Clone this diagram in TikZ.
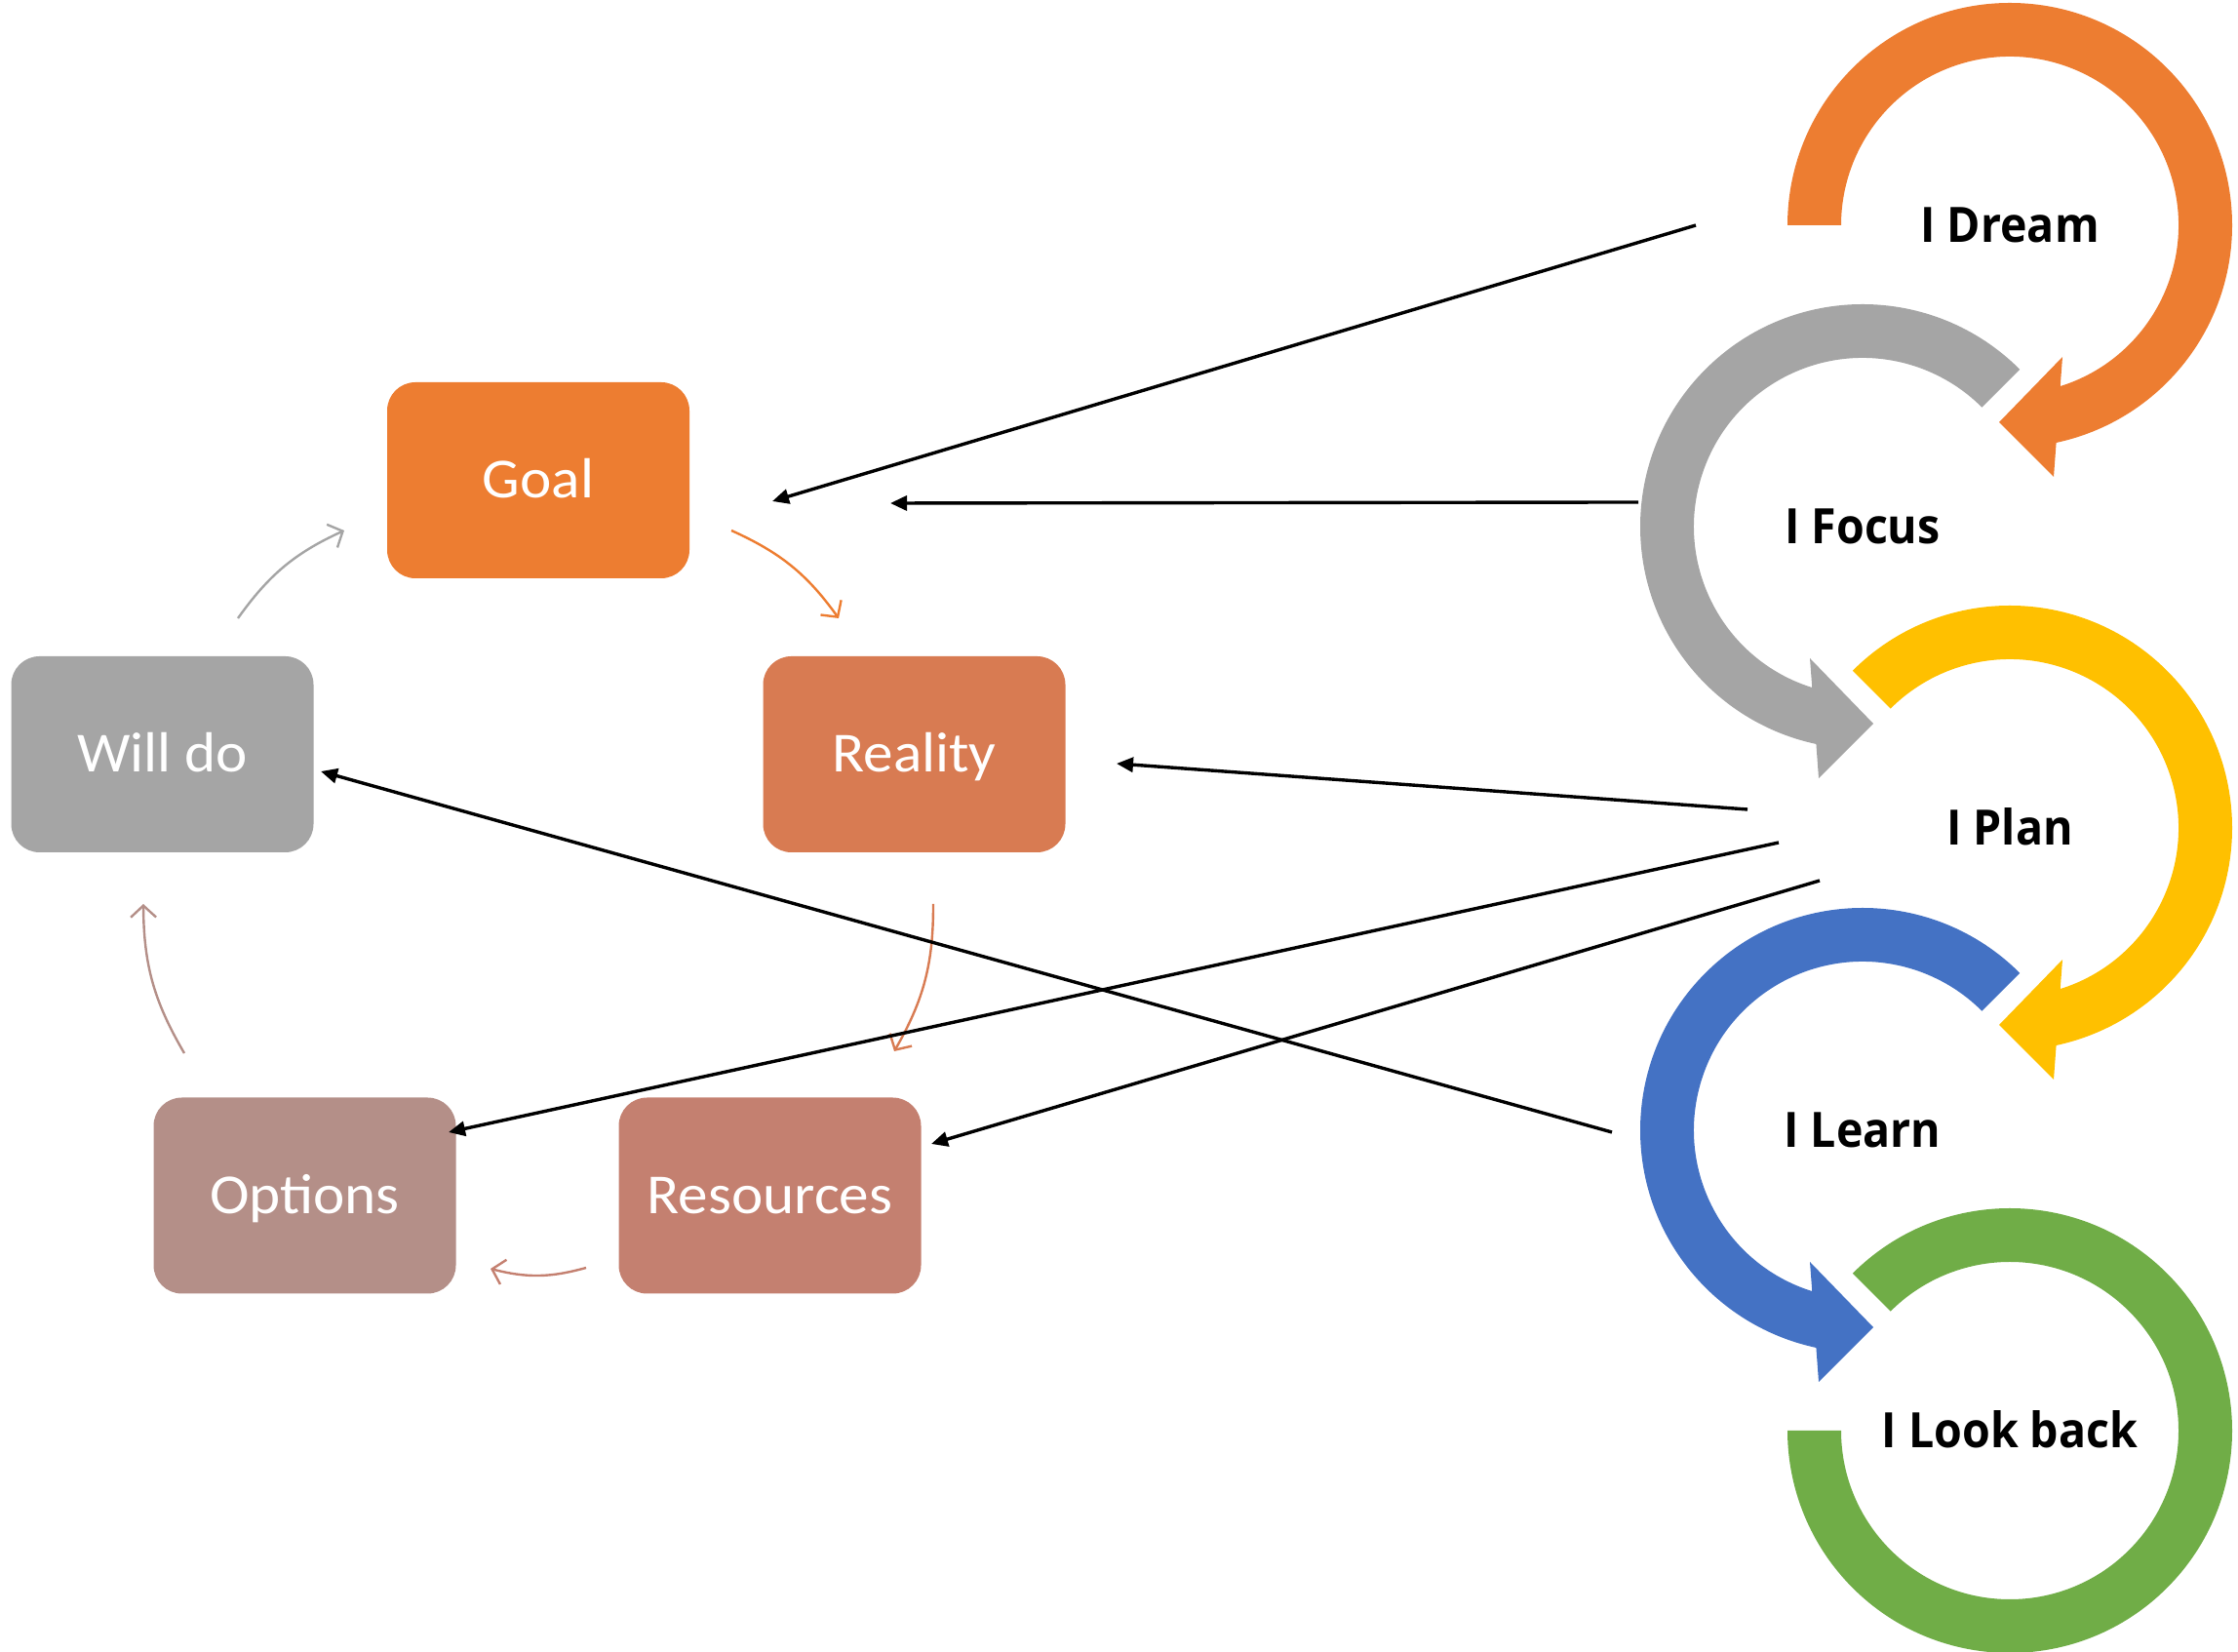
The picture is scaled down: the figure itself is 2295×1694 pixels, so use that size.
\documentclass[tikz,border=0pt]{standalone}
\usepackage{fontspec}
\setmainfont[FakeStretch=1.055]{Carlito}
\newfontfamily\ringfont[FakeStretch=0.93]{Open Sans}
\usetikzlibrary{arrows.meta}
\definecolor{cGoal}{HTML}{ED7D31}
\definecolor{cReal}{HTML}{D87B52}
\definecolor{cWill}{HTML}{A5A5A5}
\definecolor{cOpt}{HTML}{B48F88}
\definecolor{cRes}{HTML}{C48070}
\definecolor{cDream}{HTML}{ED7D31}
\definecolor{cFocus}{HTML}{A5A5A5}
\definecolor{cPlan}{HTML}{FFC000}
\definecolor{cLearn}{HTML}{4472C4}
\definecolor{cBack}{HTML}{70AD47}
\begin{document}
\begin{tikzpicture}[x=1pt,y=1pt,
  box/.style={rounded corners=29pt, minimum width=310pt, minimum height=201pt,
    inner sep=0pt, text=white, font=\fontsize{58}{70}\selectfont,
    text height=36.5pt, text depth=0pt},
  cyc/.style={line width=2.4pt, -{Straight Barb[length=12pt,width=26pt]}, bend left=15},
  link/.style={line width=3.4pt, -{Triangle[length=17pt,width=15pt]}},
  ringlabel/.style={font=\ringfont\bfseries\fontsize{50}{60}\selectfont,
    text height=35.7pt, text depth=0pt, inner sep=0pt}]
\useasboundingbox (0,0) rectangle (2295,1694);

% ---- rings ----
\begin{scope}[shift={(2061,1463)}]
\fill[cDream] (180:228pt) arc[start angle=180, end angle=-77.95, radius=228pt]
  -- (45,-258) -- (-11,-202) -- (54,-135) -- (-72.6:173pt)
  arc[start angle=-72.6, end angle=180, radius=173pt] -- cycle;
\end{scope}
\begin{scope}[shift={(1910,1154)}]
\fill[cFocus] (45:228pt) arc[start angle=45, end angle=257.95, radius=228pt]
  -- (-45,-258) -- (11,-202) -- (-54,-135) -- (252.6:173pt)
  arc[start angle=252.6, end angle=45, radius=173pt] -- cycle;
\end{scope}
\begin{scope}[shift={(2061,845)}]
\fill[cPlan] (135:228pt) arc[start angle=135, end angle=-77.95, radius=228pt]
  -- (45,-258) -- (-11,-202) -- (54,-135) -- (-72.6:173pt)
  arc[start angle=-72.6, end angle=135, radius=173pt] -- cycle;
\end{scope}
\begin{scope}[shift={(1910,535)}]
\fill[cLearn] (45:228pt) arc[start angle=45, end angle=257.95, radius=228pt]
  -- (-45,-258) -- (11,-202) -- (-54,-135) -- (252.6:173pt)
  arc[start angle=252.6, end angle=45, radius=173pt] -- cycle;
\end{scope}
\begin{scope}[shift={(2061,227)}]
\fill[cBack] (135:228pt) arc[start angle=135, end angle=-180, radius=228pt]
  -- (-180:173pt) arc[start angle=-180, end angle=135, radius=173pt] -- cycle;
\end{scope}

\node[ringlabel] (dream) at (2061,1463) {I Dream};
\node[ringlabel] (focus) at (1910,1154) {I Focus};
\node[ringlabel] (plan) at (2061,845) {I Plan};
\node[ringlabel] (learn) at (1910,535) {I Learn};
\node[ringlabel] (lookback) at (2061,227) {I Look back};

% ---- boxes ----
\node[box, fill=cGoal] (goal) at (552,1201.5) {Goal};
\node[box, fill=cReal] (reality) at (937.5,920.5) {Reality};
\node[box, fill=cWill] (willdo) at (166.5,920.5) {Will do};
\node[box, fill=cOpt] (options) at (312.5,468) {Options};
\node[box, fill=cRes] (resources) at (789.5,468) {Resources};

% ---- cycle arrows ----
\coordinate (gr1) at (750,1150); \coordinate (gr2) at (860,1060);
\coordinate (rr1) at (957,767);  \coordinate (rr2) at (917,616);
\coordinate (ro1) at (601,394);  \coordinate (ro2) at (503,393);
\coordinate (ow1) at (189,614);  \coordinate (ow2) at (147,767);
\coordinate (wg1) at (244,1060); \coordinate (wg2) at (353,1150);
\draw[cyc, cGoal] (gr1) to (gr2);
\draw[cyc, cReal] (rr1) to (rr2);
\draw[cyc, cRes] (ro1) to (ro2);
\draw[cyc, cOpt] (ow1) to (ow2);
\draw[cyc, cWill] (wg1) to (wg2);

% ---- links ----
\coordinate (dreamOut) at (1739,1463); \coordinate (goalInA) at (792,1180);
\coordinate (focusOut) at (1680,1179); \coordinate (goalInB) at (913,1178);
\coordinate (planOutA) at (1792,864);  \coordinate (realIn) at (1145,911);
\coordinate (planOutB) at (1824,830);  \coordinate (optIn) at (460,533);
\coordinate (planOutC) at (1866,791);  \coordinate (resIn) at (955,521);
\coordinate (learnOut) at (1653,533);  \coordinate (willIn) at (329,903);
\draw[link] (dreamOut) -- (goalInA);
\draw[link] (focusOut) -- (goalInB);
\draw[link] (planOutA) -- (realIn);
\draw[link] (planOutB) -- (optIn);
\draw[link] (planOutC) -- (resIn);
\draw[link] (learnOut) -- (willIn);
\end{tikzpicture}
\end{document}
